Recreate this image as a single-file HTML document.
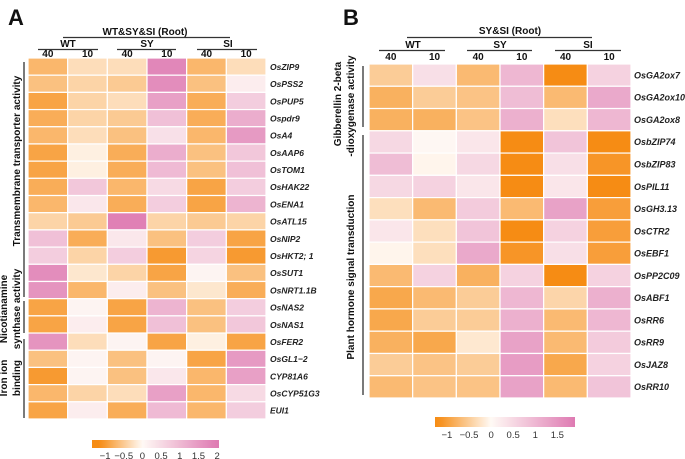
<!DOCTYPE html>
<html><head><meta charset="utf-8"><style>
html,body{margin:0;padding:0;background:#fff;}
svg{display:block;font-family:"Liberation Sans",sans-serif;}
</style></head><body>
<svg id="fig" width="685" height="459" viewBox="0 0 685 459"></svg>
<script>
const columnsA = ["WT40","WT10","SY40","SY10","SI40","SI10"];
const genesA = ["OsZIP9","OsPSS2","OsPUP5","Ospdr9","OsA4","OsAAP6","OsTOM1","OsHAK22","OsENA1","OsATL15","OsNIP2","OsHKT2; 1","OsSUT1","OsNRT1.1B","OsNAS2","OsNAS1","OsFER2","OsGL1\u22122","CYP81A6","OsCYP51G3","EUI1"];
const valuesA = [
[-0.7,-0.3,-0.3,1.8,-0.7,-0.3],
[-0.6,-0.4,-0.5,1.7,-0.6,0.2],
[-0.9,-0.4,-0.3,1.4,-0.8,0.7],
[-0.8,-0.4,-0.5,0.9,-0.8,1.2],
[-0.7,-0.3,-0.6,0.4,-0.7,1.5],
[-0.9,-0.1,-0.8,1.2,-0.6,0.8],
[-0.9,-0.1,-0.8,1.0,-0.6,0.9],
[-0.8,0.8,-0.7,0.5,-0.9,0.7],
[-0.7,0.3,-0.8,0.7,-0.9,1.1],
[-0.4,-0.5,1.9,-0.4,-0.5,-0.4],
[0.9,-0.8,0.3,-0.6,0.7,-0.9],
[0.7,-0.4,0.7,-1.0,0.6,-1.0],
[1.7,-0.2,-0.4,-0.9,0.1,-0.6],
[1.6,-0.7,0.2,-0.6,-0.2,-0.8],
[-0.9,0.1,-0.9,1.1,-0.6,0.7],
[-0.9,0.2,-0.9,0.9,-0.6,0.8],
[1.6,-0.3,0.1,-0.9,-0.1,-0.9],
[-0.6,0.1,-0.6,0.1,-0.9,1.5],
[-1.0,0.1,-0.6,0.3,-0.7,1.4],
[-0.7,-0.4,-0.3,1.4,-0.7,0.5],
[-0.9,0.2,-0.8,1.0,-0.7,0.7]];
const genesB = ["OsGA2ox7","OsGA2ox10","OsGA2ox8","OsbZIP74","OsbZIP83","OsPIL11","OsGH3.13","OsCTR2","OsEBF1","OsPP2C09","OsABF1","OsRR6","OsRR9","OsJAZ8","OsRR10"];
const valuesB = [
[-0.5,0.4,-0.7,1.0,-1.2,0.6],
[-0.8,-0.5,-0.6,0.9,-0.7,1.2],
[-0.8,-0.8,-0.6,1.1,-0.3,1.0],
[0.5,0.05,0.3,-1.2,0.8,-1.2],
[0.9,-0.05,0.5,-1.2,0.4,-1.1],
[0.5,0.6,0.3,-1.2,0.3,-1.2],
[-0.3,-0.7,0.7,-0.7,1.3,-1.0],
[0.3,-0.3,0.8,-1.2,0.6,-1.0],
[-0.05,-0.3,1.2,-1.1,0.4,-1.0],
[-0.7,0.6,-0.8,0.6,-1.2,0.6],
[-0.9,-0.7,-0.5,1.0,-0.4,1.1],
[-0.9,-0.5,-0.5,1.1,-0.7,1.0],
[-0.8,-0.9,-0.2,1.3,-0.7,0.7],
[-0.5,-0.6,-0.5,1.4,-0.9,0.6],
[-0.7,-0.6,-0.6,1.3,-0.7,0.8]];
const ticksA = [-1,-0.5,0,0.5,1,1.5,2];
const ticksB = [-1,-0.5,0,0.5,1,1.5];
const tickLabelsA = ["\u22121","\u22120.5","0","0.5","1","1.5","2"];
const tickLabelsB = ["\u22121","\u22120.5","0","0.5","1","1.5"];

const NS="http://www.w3.org/2000/svg";
const svg=document.getElementById('fig');
function mk(tag,attrs,parent){const e=document.createElementNS(NS,tag);for(const k in attrs)e.setAttribute(k,attrs[k]);(parent||svg).appendChild(e);return e;}
function txt(s,attrs,parent){const e=mk('text',attrs,parent);e.textContent=s;return e;}
function color(v,lo,hi){
  const O=[246,140,20],W=[255,250,245],P=[222,122,178];
  let a,b,t;
  if(v<0){t=Math.min(1,v/lo);a=W;b=O;}else{t=Math.min(1,v/hi);a=W;b=P;}
  return 'rgb('+a.map((c,i)=>Math.round(c+(b[i]-c)*t)).join(',')+')';
}
function heat(cfg){
  const g=mk('g',{});
  
  
  const cw=(cfg.x1-cfg.x0)/6, rh=(cfg.y1-cfg.y0)/cfg.genes.length;
  cfg.values.forEach((row,r)=>row.forEach((v,c)=>{
    const rect=mk('rect',{x:cfg.x0+c*cw,y:cfg.y0+r*rh,width:cw,height:rh,fill:color(v,cfg.lo,cfg.hi),stroke:'#fff','stroke-width':1.2},g);
    
    
  }));
  cfg.genes.forEach((gn,r)=>{
    const t=txt(gn,{x:cfg.x1+cfg.lx,y:cfg.y0+(r+0.5)*rh+3.3,'font-size':cfg.fs,'font-weight':'bold','font-style':'italic',fill:'#222'},g);
    
    
  });
  const cb=cfg.cb;
  const grad=mk('linearGradient',{id:cfg.name+'-grad',x1:0,x2:1,y1:0,y2:0},mk('defs',{}));
  for(let i=0;i<=20;i++){const v=cb.min+(cb.max-cb.min)*i/20;mk('stop',{offset:(i*5)+'%','stop-color':color(v,cfg.lo,cfg.hi)},grad);}
  const bar=mk('rect',{x:cb.x0,y:cb.y,width:cb.x1-cb.x0,height:cb.h,fill:'url(#'+cfg.name+'-grad)'},g);
  
  
  cfg.ticks.forEach((tv,i)=>{
    const x=cb.x0+(tv-cb.min)/(cb.max-cb.min)*(cb.x1-cb.x0);
    const t=txt(cfg.tickLabels[i],{x:x,y:cb.y+cb.h+11,'font-size':9.5,'text-anchor':'middle',fill:'#333'},g);
    
    
  });
}
heat({name:'heatmap-a',genes:genesA,values:valuesA,x0:28,x1:266,y0:58,y1:419,lo:-1.15,hi:2.0,lx:4,fs:8.5,
  cb:{x0:92,x1:219,y:440,h:8,min:-1.35,max:2.05},ticks:ticksA,tickLabels:tickLabelsA});
heat({name:'heatmap-b',genes:genesB,values:valuesB,x0:369,x1:631,y0:64,y1:398,lo:-1.2,hi:1.9,lx:3,fs:9,
  cb:{x0:435,x1:575,y:417,h:10,min:-1.27,max:1.9},ticks:ticksB,tickLabels:tickLabelsB});

function line(x1,y1,x2,y2,w){mk('line',{x1,y1,x2,y2,stroke:'#333','stroke-width':w||1.3});}
function lbl(s,x,y,fs,name,extra){const t=txt(s,Object.assign({x,y,'font-size':fs,'font-weight':'bold','text-anchor':'middle',fill:'#111'},extra||{}));
  return t;}
lbl('A',16,25,22,'panel-a-letter');
lbl('B',351,25,22,'panel-b-letter');
lbl('WT&SY&SI (Root)',145,35,10,'panel-a-title');line(63,37.5,230,37.5);
[['WT',68,38,98],['SY',147,117,176],['SI',228,197,257]].forEach(([s,c,a,b])=>{lbl(s,c,47,10,'group-header-'+s);line(a,49.5,b,49.5);});
const cwA=(266-28)/6;
for(let i=0;i<6;i++)lbl(i%2?'10':'40',28+(i+0.5)*cwA,57,10,'column-label');
lbl('SY&SI (Root)',510,34,10,'panel-b-title');line(407,37.5,592,37.5);
[['WT',413,379,445],['SY',500,467,532],['SI',588,555,621]].forEach(([s,c,a,b])=>{lbl(s,c,48,10,'group-header-'+s);line(a,50.5,b,50.5);});
const cwB=(631-369)/6;
for(let i=0;i<6;i++)lbl(i%2?'10':'40',369+(i+0.5)*cwB,60,10,'column-label');
line(24,62,24,297);line(24,301,24,333);line(24,339,24,418);
function rot(s,x,y,fs,name){lbl(s,x,y,fs,name,{transform:'rotate(-90 '+x+' '+y+')'});}
rot('Transmembrane transporter activity',20,161,10,'category-transmembrane');
rot('Nicotianamine',7,309,10,'category-nicotianamine');
rot('synthase activity',20,309,10,'category-nicotianamine-2');
rot('Iron ion',7,378,10,'category-iron');
rot('binding',20,378,10,'category-iron-2');
line(363,66,363,127);line(363,135,363,395);
rot('Gibberellin 2-beta',341,104,10,'category-gibberellin');
rot('-dioxygenase activity',354,106,10,'category-gibberellin-2');
rot('Plant hormone signal transduction',354,277,10,'category-plant-hormone');
</script>
</body></html>
